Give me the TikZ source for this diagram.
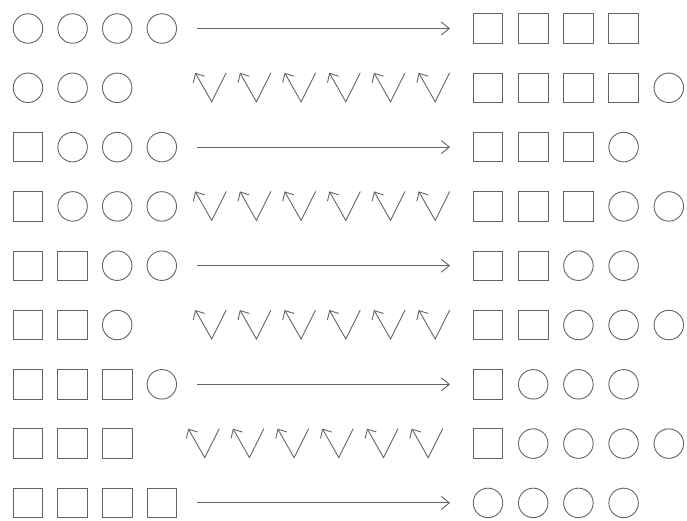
\documentclass[tikz,border=0pt]{standalone}
\usetikzlibrary{arrows.meta}
\definecolor{ink}{RGB}{100,100,100}
\begin{document}
\begin{tikzpicture}[x=1pt,y=-1pt,
  shp/.style={draw=ink, line width=0.9pt, inner sep=0pt, minimum size=29.5pt},
  circ/.style={shp, circle},
  sqr/.style={shp, rectangle},
  arr/.style={draw=ink, line width=0.9pt, -{Straight Barb[length=8pt,width=13pt]}},
  chk/.style={draw=ink, line width=0.9pt, {Straight Barb[length=7pt,width=13pt]}-}]
\useasboundingbox (0,0) rectangle (687,520);
\foreach \r/\L/\M/\R/\off in {
  1/{circ,circ,circ,circ}/a/{sqr,sqr,sqr,sqr}/0,
  2/{circ,circ,circ}/k/{sqr,sqr,sqr,sqr,circ}/0,
  3/{sqr,circ,circ,circ}/a/{sqr,sqr,sqr,circ}/0,
  4/{sqr,circ,circ,circ}/k/{sqr,sqr,sqr,circ,circ}/0,
  5/{sqr,sqr,circ,circ}/a/{sqr,sqr,circ,circ}/0,
  6/{sqr,sqr,circ}/k/{sqr,sqr,circ,circ,circ}/0,
  7/{sqr,sqr,sqr,circ}/a/{sqr,circ,circ,circ}/0,
  8/{sqr,sqr,sqr}/k/{sqr,circ,circ,circ,circ}/-7,
  9/{sqr,sqr,sqr,sqr}/a/{circ,circ,circ,circ}/0}{
  \pgfmathsetmacro\y{28.5+59.3*(\r-1)}
  \foreach \t [count=\j] in \L {
    \node[\t] (L\r-\j) at ({28+44.6*(\j-1)},\y) {};
  }
  \foreach \t [count=\j] in \R {
    \node[\t] (R\r-\j) at ({488+45.2*(\j-1)},\y) {};
  }
  \if a\M
    \coordinate (A\r s) at (197,\y);
    \coordinate (A\r e) at (450,\y);
    \draw[arr] (A\r s) -- (A\r e);
  \else
    \foreach \k in {1,...,6} {
      \pgfmathsetmacro\b{211.7+44.7*(\k-1)+\off}
      \coordinate (K\r-\k t) at (\b-16.5,\y-15);
      \coordinate (K\r-\k b) at (\b,\y+14);
      \coordinate (K\r-\k u) at (\b+14.5,\y-15);
      \draw[chk] (K\r-\k t) -- (K\r-\k b) -- (K\r-\k u);
    }
  \fi
}
\end{tikzpicture}
\end{document}
